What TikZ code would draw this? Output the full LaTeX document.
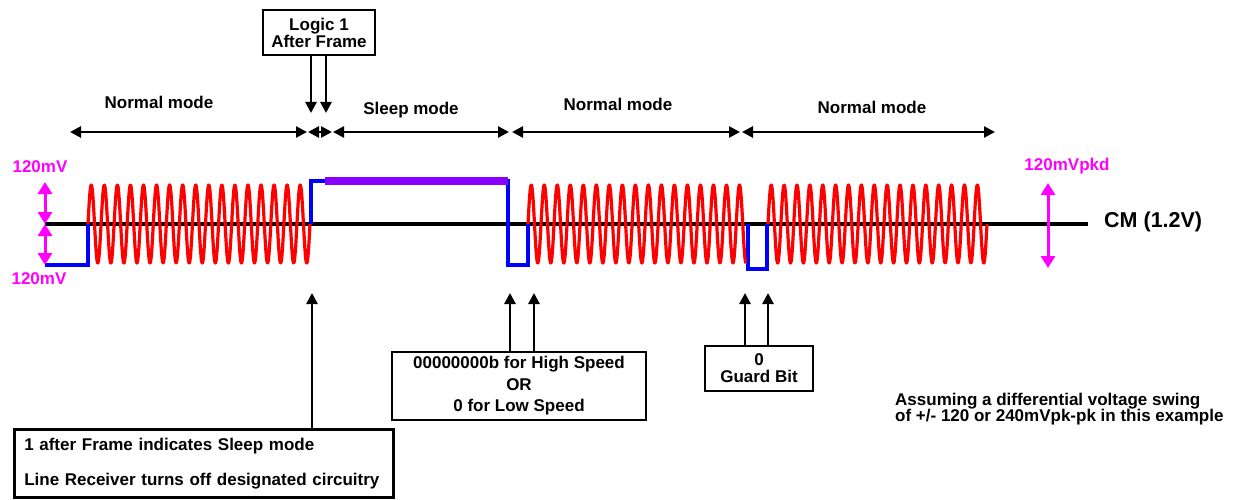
\documentclass[tikz,border=0pt]{standalone}
\usepackage{fontspec}
\setmainfont{Liberation Sans}
\usetikzlibrary{arrows.meta}
\definecolor{sigred}{RGB}{255,0,0}
\definecolor{sigblue}{RGB}{0,0,255}
\definecolor{sigpurple}{RGB}{136,0,255}
\definecolor{sigmag}{RGB}{255,0,255}
\tikzset{
  lbl/.style={font=\bfseries\fontsize{17}{17}\selectfont, inner sep=0pt},
  boxnode/.style={draw, line width=2.5pt, font=\bfseries\fontsize{17}{17}\selectfont, align=center, inner sep=0pt},
  dimarrow/.style={{Triangle[length=11pt,width=11pt]}-{Triangle[length=11pt,width=11pt]}, line width=2.6pt},
  ptr/.style={-{Triangle[length=11pt,width=11pt]}, line width=2.6pt},
  magarrow/.style={sigmag, line width=3pt, {Triangle[length=12pt,width=14pt]}-{Triangle[length=12pt,width=14pt]}},
  magtext/.style={lbl, text=sigmag},
  wave/.style={sigred, line width=3.2pt, line join=round},
  bluesig/.style={sigblue, line width=3.2pt, line join=miter}
}
\begin{document}
\begin{tikzpicture}[x=1pt,y=-1pt]
\useasboundingbox (0,0) rectangle (1234,500);

% common mode line
\coordinate (cmL) at (45,224);
\coordinate (cmR) at (1088,224);
\draw[line width=3.2pt] (cmL) -- (cmR);
\node[lbl, font=\bfseries\fontsize{21.5}{21.5}\selectfont, anchor=west] (cm) at (1104,222) {CM (1.2V)};

% blue segments
\draw[bluesig] (45,265) -- (88,265) -- (88,224);
\draw[bluesig] (311,224) -- (311,181) -- (508,181) -- (508,265) -- (528,265) -- (528,224);
\draw[bluesig] (748,224) -- (748,269) -- (767,269) -- (767,224);

% purple sleep bar
\fill[sigpurple] (325,177) rectangle (508,185);

% red waves
\draw[wave] plot[domain=88:310, samples=700] (\x, {224 - 39*sin((\x-88)/222*6120)});
\draw[wave] plot[domain=528:746, samples=700] (\x, {224 - 39*sin((\x-528)/218*6030)});
\draw[wave] plot[domain=768:987, samples=700] (\x, {224 - 39*sin((\x-768)/219*6120)});

% magenta amplitude arrows
\coordinate (mA) at (45,182);
\coordinate (mB) at (45,224);
\coordinate (mC) at (45,265);
\draw[magarrow] (mA) -- (mB);
\draw[magarrow] (mB) -- (mC);
\node[magtext] (mvtop) at (40,167) {120mV};
\node[magtext] (mvbot) at (39,279) {120mV};
\coordinate (rA) at (1048,183);
\coordinate (rB) at (1048,268);
\draw[magarrow] (rA) -- (rB);
\node[magtext] (mvpkd) at (1067,166) {120mVpkd};

% mode dimension arrows
\coordinate (d1a) at (70,132);  \coordinate (d1b) at (307,132);
\coordinate (d2a) at (308,132); \coordinate (d2b) at (332,132);
\coordinate (d3a) at (333,132); \coordinate (d3b) at (509,132);
\coordinate (d4a) at (512,132); \coordinate (d4b) at (740,132);
\coordinate (d5a) at (742,132); \coordinate (d5b) at (995,132);
\draw[dimarrow] (d1a) -- (d1b);
\draw[dimarrow] (d2a) -- (d2b);
\draw[dimarrow] (d3a) -- (d3b);
\draw[dimarrow] (d4a) -- (d4b);
\draw[dimarrow] (d5a) -- (d5b);
\node[lbl] (nm1) at (159,102) {Normal mode};
\node[lbl] (sm) at (411,110) {Sleep mode};
\node[lbl] (nm2) at (618,104) {Normal mode};
\node[lbl] (nm3) at (872,107) {Normal mode};

% Logic 1 box
\node[boxnode, minimum width=112pt, minimum height=45pt] (logic) at (319,32.5) {Logic 1\\After Frame};
\coordinate (lt1) at (311,113);
\coordinate (lt2) at (326,113);
\draw[ptr] (logic.south -| lt1) -- (lt1);
\draw[ptr] (logic.south -| lt2) -- (lt2);

% Sleep box
\node[draw, line width=2.5pt, font=\bfseries\fontsize{17}{35}\selectfont, align=left,
      text width=359pt, inner xsep=10pt, inner ysep=0pt, minimum height=68pt, anchor=north west]
      (sleepbox) at (13,428) {1 after Frame indicates Sleep mode\\Line Receiver turns off designated circuitry};
\coordinate (st1) at (312,293);
\draw[ptr] (sleepbox.north -| st1) -- (st1);

% Speed box
\node[boxnode, font=\bfseries\fontsize{17}{21.5}\selectfont, minimum width=254pt, minimum height=68pt] (speed) at (519,386)
      {00000000b for High Speed\\OR\\0 for Low Speed};
\coordinate (sp1) at (510,293);
\coordinate (sp2) at (534,293);
\draw[ptr] (speed.north -| sp1) -- (sp1);
\draw[ptr] (speed.north -| sp2) -- (sp2);

% Guard box
\node[boxnode, minimum width=108pt, minimum height=45pt] (guard) at (759,368.5) {0\\Guard Bit};
\coordinate (gb1) at (745,293);
\coordinate (gb2) at (768,293);
\draw[ptr] (guard.north -| gb1) -- (gb1);
\draw[ptr] (guard.north -| gb2) -- (gb2);

% note
\node[lbl, font=\bfseries\fontsize{17}{16.5}\selectfont, align=left, anchor=west] (note) at (895,409)
      {Assuming a differential voltage swing\\of +/- 120 or 240mVpk-pk in this example};
\end{tikzpicture}
\end{document}
